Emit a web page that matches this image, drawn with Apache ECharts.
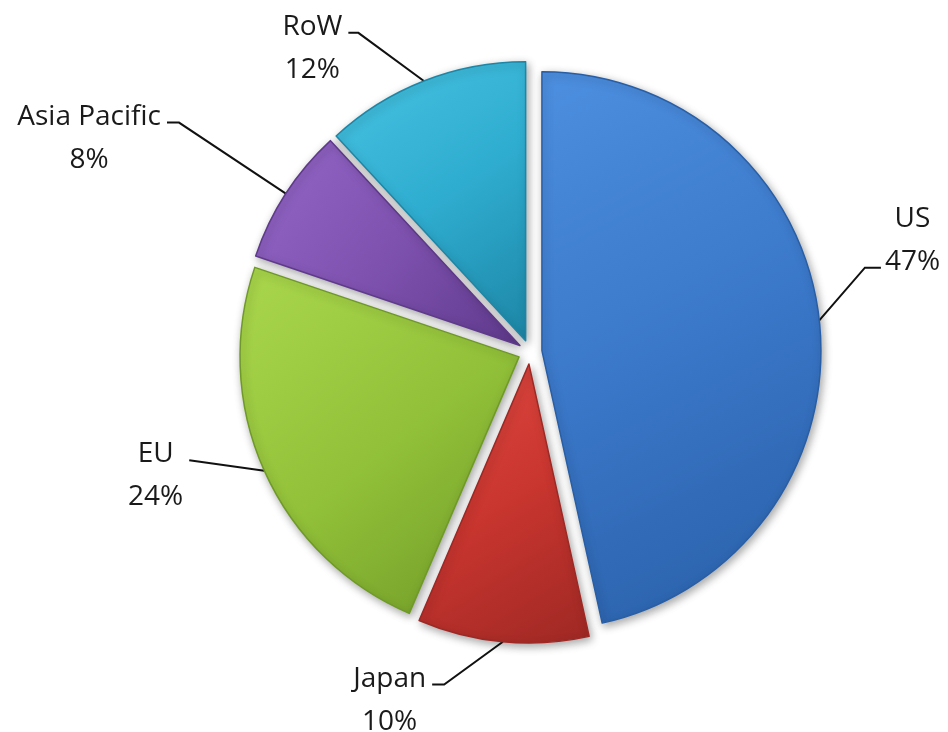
<!DOCTYPE html>
<html>
<head>
<meta charset="utf-8">
<script src="https://cdn.jsdelivr.net/npm/echarts@6/dist/echarts.min.js"></script>
<style>
html,body{margin:0;padding:0;background:#fff;}
#chart{width:948px;height:732px;}
</style>
</head>
<body>
<div id="chart"></div>
<script>
const regions = ['US', 'Japan', 'EU', 'Asia Pacific', 'RoW'];
const shares = [47, 10, 24, 8, 12];

const palette = {
  'US':           ['#4d8fe0', '#3a77c8', '#285ea6'],
  'Japan':        ['#e04a42', '#c9352f', '#9e2824'],
  'EU':           ['#a9d64c', '#93c23a', '#6f9a26'],
  'Asia Pacific': ['#9467c8', '#7f52b0', '#5f3a8c'],
  'RoW':          ['#48c3e2', '#2fadd0', '#1d86a6']
};
// label line [length, length2], line meets first text line?, label shift [dx, dy], elbow length
const lineCfg = {
  'US':           [62, 18, false, [-18, -52], 16],
  'Japan':        [40, 12, true, [-57, -3], 12],
  'EU':           [80, 6, true, [2, -49], 0],
  'Asia Pacific': [125, 10, true, [-6, -9], 12],
  'RoW':          [70, 10, true, [-42, 11], 10]
};
const LH = 43;

const data = regions.map((name, i) => {
  const c = palette[name];
  const lc = lineCfg[name];
  return {
    name: name,
    value: shares[i],
    selected: true,
    itemStyle: {
      color: new echarts.graphic.LinearGradient(0, 0, 1, 1, [
        {offset: 0, color: c[0]},
        {offset: 0.5, color: c[1]},
        {offset: 1, color: c[2]}
      ]),
      borderColor: c[2],
      borderWidth: 1.5,
      shadowBlur: 8,
      shadowOffsetX: 2,
      shadowOffsetY: 3,
      shadowColor: 'rgba(0,0,0,0.35)'
    },
    labelLine: {length: lc[0], length2: lc[1]},
    label: {
      formatter: lc[2]
        ? '{e| }\n{n|' + name + '}\n{n|' + shares[i] + '%}'
        : '{n|' + name + '}\n{n|' + shares[i] + '%}\n{e| }'
    }
  };
});

const chart = echarts.init(document.getElementById('chart'), null, {renderer: 'canvas'});
chart.setOption({
  backgroundColor: '#ffffff',
  animation: false,
  series: [{
    type: 'pie',
    center: [530, 352],
    radius: [0, 279],
    startAngle: 90,
    clockwise: true,
    selectedMode: 'multiple',
    selectedOffset: 12,
    avoidLabelOverlap: false,
    emphasis: {disabled: true},
    label: {
      show: true,
      position: 'outside',
      alignTo: 'none',
      distanceToLabelLine: 4,
      color: '#1a1a1a',
      fontFamily: 'Open Sans',
      fontSize: 28,
      lineHeight: LH,
      rich: {
        n: {fontFamily: 'Open Sans', fontSize: 28, lineHeight: LH, color: '#1a1a1a', align: 'center'},
        e: {fontSize: 28, lineHeight: LH}
      }
    },
    labelLine: {
      show: true,
      smooth: false,
      lineStyle: {color: '#111', width: 2}
    },
    labelLayout: function (p) {
      const lc = lineCfg[regions[p.dataIndex]];
      const dx = lc[3][0], dy = lc[3][1];
      const r = p.labelRect;
      const pts = p.labelLinePoints;
      const start = pts[0];
      const isLeft = pts[pts.length - 1][0] < start[0];
      const midY = r.y + r.height / 2 + dy + 6;
      let end, elbow;
      if (isLeft) {
        end = [r.x + r.width + dx + 6, midY];
        elbow = [end[0] + lc[4], midY];
      } else {
        end = [r.x + dx - 4, midY];
        elbow = [end[0] - lc[4], midY];
      }
      return {dx: dx, dy: dy, labelLinePoints: [start, elbow, end]};
    },
    data: data
  }]
});
</script>
</body>
</html>
